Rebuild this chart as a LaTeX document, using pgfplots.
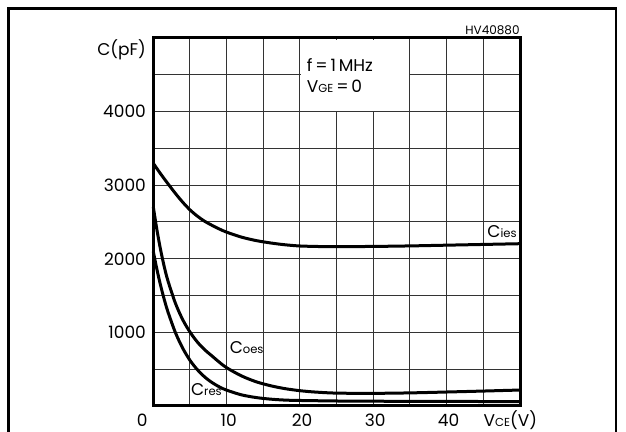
\documentclass[border=0pt]{standalone}
\usepackage{pgfplots}
\pgfplotsset{compat=1.18}
\usepackage{fontspec}
\setmainfont{Poppins}
\newcommand{\sub}[1]{{\fontsize{5.8}{6}\selectfont #1}}
\newcommand{\lbl}{\fontsize{8.5}{10}\selectfont}

\begin{document}
\begin{tikzpicture}
\useasboundingbox (-76.65pt,-13pt) rectangle (236.35pt,203pt);
% outer frame
\draw[line width=1.4pt] (-72.3pt,-20pt) -- (-72.3pt,198.65pt) -- (231.35pt,198.65pt) -- (231.35pt,-20pt);
\begin{axis}[
  at={(0pt,0pt)}, anchor=south west,
  scale only axis, width=183.35pt, height=184pt,
  xmin=0, xmax=50, ymin=0, ymax=5000,
  xtick={0,10,20,30,40}, xticklabels={,10,20,30,40},
  minor xtick={5,15,25,35,45,50},
  ytick={1000,2000,3000,4000}, yticklabels={1000,2000,3000,4000},
  minor ytick={500,1500,2500,3500,4500,5000},
  grid=both,
  major grid style={black!80,line width=0.5pt},
  minor grid style={black!80,line width=0.5pt},
  major tick length=0pt, minor tick length=0pt,
  tick style={draw=none},
  axis line style={line width=1.5pt},
  tick label style={font=\lbl, inner sep=0pt},
  xticklabel style={anchor=base, yshift=-10.5pt, xshift=1pt},
  yticklabel style={anchor=east, xshift=-3.5pt},
  clip=false,
]

% blank box behind the test conditions
\fill[white] ([xshift=0.3pt,yshift=0.3pt]axis cs:20,4000) rectangle ([xshift=-0.3pt,yshift=-0.8pt]axis cs:35,5000);

% Cies
\addplot[black, line width=1.5pt, smooth] coordinates {
(0,3297) (1,3154) (2,3020) (3,2890) (4,2770) (5,2665) (6,2580) (7,2510)
(8,2455) (9,2405) (10,2362) (12,2295) (14,2248) (16,2215) (18,2190)
(20,2174) (22.5,2167) (25,2165) (30,2168) (35,2175) (40,2185) (45,2195) (50,2205)
};
% Coes
\addplot[black, line width=1.5pt, smooth] coordinates {
(0,2705) (0.5,2390) (1,2120) (1.5,1890) (2,1700) (3,1400) (4,1175) (5,1005)
(6,870) (7,765) (8,680) (9,595) (10,520) (12,410) (14,330) (16,275)
(18,235) (20,208) (22,190) (25,175) (30,172) (35,178) (40,190) (45,203) (50,217)
};
% Cres
\addplot[black, line width=1.5pt, smooth] coordinates {
(0,2100) (0.5,1853) (1,1636) (1.5,1445) (2,1278) (3,1001) (4,787) (5,621)
(6,494) (7,395) (8,319) (9,260) (10,215) (12,152) (14,115) (16,93)
(18,80) (20,75) (25,68) (30,65) (40,62) (50,60)
};

\node[anchor=base west, inner sep=0pt, font=\lbl] at (axis cs:45.5,2287) {C\sub{ies}};
\node[anchor=base west, inner sep=0pt, font=\lbl] at (axis cs:10.37,716) {C\sub{oes}};
\node[anchor=base west, inner sep=0pt, font=\lbl] at (axis cs:5.1,136) {C\sub{res}};

\node[anchor=base west, inner sep=0pt, font=\lbl] at (axis cs:20.9,4542) {f\,=\,1\,MHz};
\node[anchor=base west, inner sep=0pt, font=\lbl] at (axis cs:20.9,4266) {V\sub{GE}\,=\,0};

\node[anchor=base, inner sep=0pt, font=\lbl] at (axis cs:0,0) [xshift=-5.5pt, yshift=-10.5pt] {0};
\node[anchor=base west, inner sep=0pt, font=\lbl] at (axis cs:45,0) [yshift=-10.5pt] {V\sub{CE}(V)};
\node[anchor=east, inner sep=0pt, font=\lbl] at (rel axis cs:0,1) [xshift=-3.5pt, yshift=-6pt] {C(pF)};
\node[anchor=base east, inner sep=0pt, font=\fontsize{6}{7}\selectfont] at (rel axis cs:1,1) [yshift=1.85pt] {HV40880};
\end{axis}
\end{tikzpicture}
\end{document}
